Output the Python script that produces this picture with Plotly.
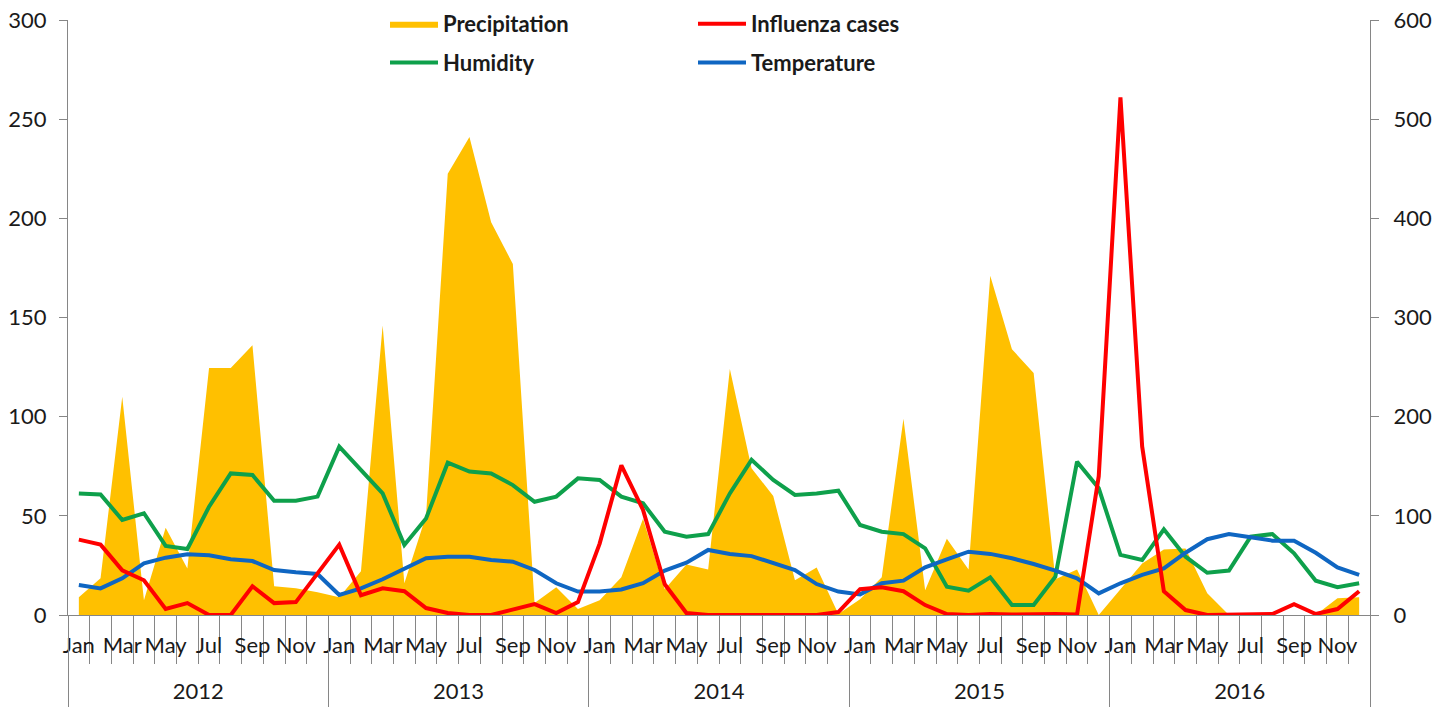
import plotly.graph_objects as go

years = ["2012", "2013", "2014", "2015", "2016"]
months = ["Jan", "Feb", "Mar", "Apr", "May", "Jun", "Jul", "Aug", "Sep", "Oct", "Nov", "Dec"]

precipitation = [
    9, 18.5, 110, 7.5, 44, 23.5, 124.5, 124.5, 136, 14.5, 13.5, 11.5,
    9, 22, 146, 16, 50, 222.5, 241, 198, 177, 6, 14, 3,
    7.5, 19, 48.5, 13, 25.5, 23, 124, 74, 60, 17.5, 24, 0.5,
    8, 19, 99, 12.5, 38.5, 23, 171, 134, 122, 18, 23, 0,
    13, 26, 33, 33.5, 11, 0, 0, 0, 0, 0, 8.5, 9,
]
humidity = [
    61.3, 60.8, 47.9, 51.3, 34.8, 33.3, 54.6, 71.4, 70.6, 57.6, 57.6, 59.7,
    84.9, 73.1, 61.3, 35.3, 48.7, 76.8, 72.3, 71.4, 65.5, 57.1, 59.7, 68.9,
    68.1, 59.7, 56.3, 42.0, 39.5, 40.8, 61.3, 78.2, 68.1, 60.5, 61.3, 62.7,
    45.4, 42.0, 40.8, 33.6, 14.3, 12.3, 19.0, 5.0, 5.0, 19.3, 77.3, 63.9,
    30.3, 27.7, 43.2, 29.4, 21.3, 22.4, 39.5, 40.8, 31.1, 17.3, 14.0, 16.0,
]
temperature = [
    15.1, 13.4, 18.5, 26.0, 28.9, 30.6, 30.1, 28.1, 27.2, 22.7, 21.5, 20.7,
    10.1, 13.4, 18.0, 23.5, 28.6, 29.4, 29.4, 27.7, 26.9, 22.7, 16.0, 11.8,
    11.8, 12.9, 16.0, 22.4, 26.4, 32.8, 30.8, 29.7, 26.0, 22.7, 15.6, 11.8,
    10.4, 16.0, 17.3, 24.0, 28.1, 31.9, 30.8, 28.6, 25.7, 22.4, 18.5, 10.9,
    16.0, 20.2, 23.5, 31.4, 38.2, 40.8, 39.2, 37.5, 37.5, 31.4, 24.0, 20.2,
]
influenza = [
    76, 71, 45, 35, 6, 12, 0, 0, 29, 12, 13, 42,
    71, 20, 27, 24, 7, 2, 0, 0, 5, 11, 2, 13,
    72, 151, 106, 31, 2, 0, 0, 0, 0, 1, 0, 3,
    26, 28, 24, 10, 1, 0, 1, 0.5, 1, 1, 0.5, 140,
    522, 170, 24, 5, 0, 0, 1, 1, 11, 1, 6, 24,
]

n = len(years) * len(months)
idx = list(range(n))
month_ticks = [i for i in idx if i % 2 == 0]
month_text = [months[i % 12] for i in month_ticks]
year_centers = [k * 12 + 5.5 for k in range(len(years))]
month_bounds = [i - 0.5 for i in range(n + 1)]
year_bounds = [k * 12 - 0.5 for k in range(len(years) + 1)]

FONT = "Lato"
TXT = "#1a1a1a"
AX = "#868686"
FS = 22
W, H = 1450, 707

fig = go.Figure()
fig.add_trace(go.Scatter(x=idx, y=precipitation, name="Precipitation", mode="lines",
                         fill="tozeroy", fillcolor="#FFC000", line=dict(width=0, color="#FFC000"),
                         legend="legend", legendgroup="p"))
fig.add_trace(go.Scatter(x=idx, y=humidity, name="Humidity", mode="lines",
                         line=dict(width=4, color="#0EA04B"), legend="legend", legendgroup="h"))
fig.add_trace(go.Scatter(x=idx, y=influenza, name="Influenza cases", mode="lines",
                         xaxis="x2", yaxis="y2",
                         line=dict(width=4, color="#FF0000"), legend="legend2", legendgroup="i"))
fig.add_trace(go.Scatter(x=idx, y=temperature, name="Temperature", mode="lines",
                         line=dict(width=4, color="#0F66C2"), legend="legend2", legendgroup="t"))

legend_common = dict(orientation="v", bgcolor="rgba(0,0,0,0)", tracegroupgap=7, itemwidth=48,
                     font=dict(family=FONT, size=FS, color=TXT, weight="bold"),
                     xref="container", yref="container", traceorder="grouped",
                     xanchor="left", yanchor="top", y=1 - 3 / H)

fig.update_layout(
    width=W, height=H,
    margin=dict(l=68, r=80, t=20, b=92, autoexpand=False),
    paper_bgcolor="white", plot_bgcolor="white",
    font=dict(family=FONT, size=FS, color=TXT),
    legend=dict(**legend_common, x=385 / W),
    legend2=dict(**legend_common, x=693 / W),
    xaxis=dict(range=[-0.5, n - 0.5], tickmode="array", tickvals=month_ticks, ticktext=month_text,
               ticks="", showline=True, linecolor=AX, linewidth=1, showgrid=False, zeroline=False,
               tickangle=0, ticklabelstandoff=11, automargin=False,
               tickfont=dict(size=FS, color=TXT),
               minor=dict(tickmode="array", tickvals=month_bounds, ticks="outside",
                          ticklen=48, tickcolor=AX, tickwidth=1, showgrid=False)),
    xaxis2=dict(range=[-0.5, n - 0.5], overlaying="x", side="bottom", anchor="y",
                tickmode="array", tickvals=year_centers, ticktext=years, ticks="",
                showline=False, showgrid=False, zeroline=False, tickangle=0,
                ticklabelstandoff=61, automargin=False, tickfont=dict(size=FS, color=TXT),
                minor=dict(tickmode="array", tickvals=year_bounds, ticks="outside",
                           ticklen=92, tickcolor=AX, tickwidth=1, showgrid=False)),
    yaxis=dict(range=[0, 300], tickmode="linear", tick0=0, dtick=50, showgrid=False,
               zeroline=False, showline=True, linecolor=AX, ticks="outside", ticklen=8,
               tickcolor=AX, ticklabelstandoff=8, automargin=False, ticklabeloverflow="allow",
               tickfont=dict(size=FS, color=TXT)),
    yaxis2=dict(range=[0, 600], tickmode="linear", tick0=0, dtick=100, overlaying="y",
                anchor="x", side="right", showgrid=False, zeroline=False, showline=True,
                linecolor=AX, ticks="outside", ticklen=8, tickcolor=AX, ticklabelstandoff=10,
                automargin=False, ticklabeloverflow="allow",
                tickfont=dict(size=FS, color=TXT)),
)

fig.write_html("out.html", config={"displayModeBar": False},
               post_script="document.body.style.margin='0';")
